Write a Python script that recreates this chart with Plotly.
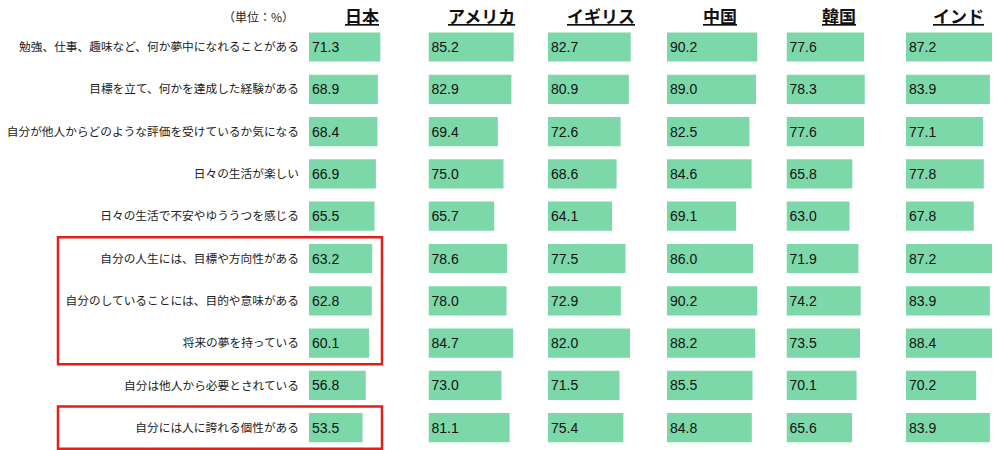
import plotly.graph_objects as go

items = [
    "勉強、仕事、趣味など、何か夢中になれることがある",
    "目標を立て、何かを達成した経験がある",
    "自分が他人からどのような評価を受けているか気になる",
    "日々の生活が楽しい",
    "日々の生活で不安やゆううつを感じる",
    "自分の人生には、目標や方向性がある",
    "自分のしていることには、目的や意味がある",
    "将来の夢を持っている",
    "自分は他人から必要とされている",
    "自分には人に誇れる個性がある",
]
countries = ["日本", "アメリカ", "イギリス", "中国", "韓国", "インド"]
japan = [71.3, 68.9, 68.4, 66.9, 65.5, 63.2, 62.8, 60.1, 56.8, 53.5]
usa = [85.2, 82.9, 69.4, 75.0, 65.7, 78.6, 78.0, 84.7, 73.0, 81.1]
uk = [82.7, 80.9, 72.6, 68.6, 64.1, 77.5, 72.9, 82.0, 71.5, 75.4]
china = [90.2, 89.0, 82.5, 84.6, 69.1, 86.0, 90.2, 88.2, 85.5, 84.8]
korea = [77.6, 78.3, 77.6, 65.8, 63.0, 71.9, 74.2, 73.5, 70.1, 65.6]
india = [87.2, 83.9, 77.1, 77.8, 67.8, 87.2, 83.9, 88.4, 70.2, 83.9]
series = [japan, usa, uk, china, korea, india]

OFF = 8  # default page margin of the browser
W, H = 1000 - OFF, 450 - OFF
col_starts = [309, 428.5, 548, 667, 786.5, 906]
col_w = 92
row0, row_step = 47, 42.3


def px(sx):
    return (sx - OFF) / W


def py(sy):
    return 1 - (sy - OFF) / H


fig = go.Figure()
for k, vals in enumerate(series):
    xa = "x" if k == 0 else f"x{k+1}"
    fig.add_trace(go.Bar(
        x=vals, y=items, orientation="h",
        xaxis=xa, yaxis="y",
        marker=dict(color="#7dd8a9", line=dict(width=0)),
        width=0.69,
        text=[f"{v:.1f}" for v in vals],
        textposition="inside", insidetextanchor="start",
        textfont=dict(family="Liberation Sans, Arial", size=14, color="#111"),
        constraintext="none",
        hoverinfo="skip", showlegend=False,
    ))
    ax = dict(domain=[px(col_starts[k]), px(col_starts[k] + col_w)],
              range=[0, col_w], visible=False, anchor="y", fixedrange=True,
              automargin=False)
    fig.layout["xaxis" if k == 0 else f"xaxis{k+1}"] = ax
    fig.add_annotation(
        x=px(col_starts[k] + 52.5), y=py(15.5), xref="paper", yref="paper",
        text=f"<b><u>{countries[k]}</u></b>", showarrow=False,
        font=dict(family="Noto Sans CJK JP", size=17, color="#111"),
        xanchor="center", yanchor="middle",
    )

top = -(row0 - OFF) / row_step
bottom = top + H / row_step
fig.update_layout(
    width=W, height=H,
    margin=dict(l=0, r=0, t=0, b=0, autoexpand=False),
    paper_bgcolor="white", plot_bgcolor="white",
    yaxis=dict(
        type="category", categoryorder="array", categoryarray=items,
        range=[bottom, top], domain=[0, 1], anchor="x",
        showgrid=False, zeroline=False, showline=False, ticks="",
        ticklabelstandoff=9, automargin=False,
        tickfont=dict(family="Noto Sans CJK JP", size=11.7, color="#222"),
        fixedrange=True,
    ),
)

fig.add_annotation(
    x=px(258), y=py(16), xref="paper", yref="paper",
    text="（単位：%）", showarrow=False,
    font=dict(family="Noto Sans CJK JP", size=12, color="#222"),
    xanchor="center", yanchor="middle",
)

for y0, y1 in [(4.5, 7.5), (8.5, 9.5)]:
    fig.add_shape(type="rect", xref="paper", yref="y",
                  x0=px(58), x1=px(382), y0=y0, y1=y1,
                  line=dict(color="#e0201b", width=2.5), fillcolor="rgba(0,0,0,0)")

fig.write_html("out.html")
